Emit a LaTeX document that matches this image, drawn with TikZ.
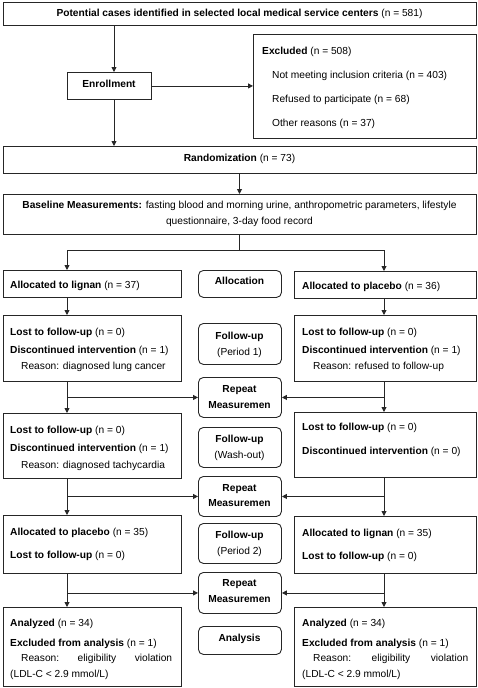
\documentclass[tikz,border=0pt]{standalone}
\usepackage{fontspec}
\setmainfont{Liberation Sans}
\usetikzlibrary{arrows.meta}
\newcommand{\diafont}{\fontsize{10.2}{12}\selectfont}
\begin{document}
\begin{tikzpicture}[x=1pt,y=-1pt,
 box/.style={draw=black!85, line width=0.9pt, anchor=north west, inner sep=0pt},
 rbox/.style={box, rounded corners=5pt},
 lbl/.style={anchor=west, inner sep=0pt, font=\diafont, text height=7.4pt, text depth=2.2pt},
 ctr/.style={inner sep=0pt, font=\diafont, text height=7.4pt, text depth=2.2pt},
 conn/.style={draw=black!85, line width=0.9pt},
 arr/.style={conn, -{Triangle[length=5pt,width=5pt]}}]
\useasboundingbox (0,0) rectangle (478,688);
% helper columns
\coordinate (xe) at (114,0);
\coordinate (xm) at (239.5,0);
\coordinate (xl) at (67,0);
\coordinate (xr) at (384,0);
% boxes
\node[box, minimum width=473pt, minimum height=23pt] (top) at (3,2) {};
\node[box, minimum width=84pt, minimum height=27pt] (enr) at (67,72) {};
\node[box, minimum width=223pt, minimum height=104pt] (exc) at (253,34) {};
\node[box, minimum width=473pt, minimum height=27pt] (rand) at (3,146) {};
\node[box, minimum width=473pt, minimum height=40pt] (base) at (3,194) {};
\node[box, minimum width=178pt, minimum height=27pt] (L1) at (3,270) {};
\node[rbox, minimum width=83pt, minimum height=27pt] (A1) at (198,270) {};
\node[box, minimum width=182pt, minimum height=27pt] (R1) at (294,271) {};
\node[box, minimum width=178pt, minimum height=66pt] (L2) at (3,315) {};
\node[rbox, minimum width=83pt, minimum height=41pt] (F1) at (198,323) {};
\node[box, minimum width=182pt, minimum height=66pt] (R2) at (294,315) {};
\node[rbox, minimum width=83pt, minimum height=40pt] (M1) at (198,377) {};
\node[box, minimum width=178pt, minimum height=65pt] (L3) at (3,413) {};
\node[rbox, minimum width=83pt, minimum height=40pt] (F2) at (198,427) {};
\node[box, minimum width=182pt, minimum height=65pt] (R3) at (294,412) {};
\node[rbox, minimum width=83pt, minimum height=40pt] (M2) at (198,476) {};
\node[box, minimum width=178pt, minimum height=58pt] (L4) at (3,515) {};
\node[rbox, minimum width=83pt, minimum height=40pt] (F3) at (198,523) {};
\node[box, minimum width=182pt, minimum height=57pt] (R4) at (294,516) {};
\node[rbox, minimum width=83pt, minimum height=41pt] (M3) at (198,572) {};
\node[box, minimum width=178pt, minimum height=79pt] (L5) at (3,607) {};
\node[rbox, minimum width=83pt, minimum height=28pt] (A2) at (198,626) {};
\node[box, minimum width=182pt, minimum height=79pt] (R5) at (294,607) {};
% texts
\node[ctr] (t0) at (239.5,14) {\textbf{Potential cases identified in selected local medical service centers} (n = 581)};
\node[ctr] (t1) at (109,84.5) {\textbf{Enrollment}};
\node[lbl] (t2) at (262,52) {\textbf{Excluded} (n = 508)};
\node[lbl] (t3) at (272,76) {Not meeting inclusion criteria (n = 403)};
\node[lbl] (t4) at (272,100) {Refused to participate (n = 68)};
\node[lbl] (t5) at (272,124) {Other reasons (n = 37)};
\node[ctr] (t6) at (239.5,159) {\textbf{Randomization} (n = 73)};
\node[ctr] (t7) at (239.5,206) {\textbf{Baseline Measurements:} fasting blood and morning urine, anthropometric parameters, lifestyle};
\node[ctr] (t8) at (239.5,222) {questionnaire, 3-day food record};
\node[lbl] (t9) at (10,286) {\textbf{Allocated to lignan} (n = 37)};
\node[ctr] (t10) at (239.5,282) {\textbf{Allocation}};
\node[lbl] (t11) at (302,287) {\textbf{Allocated to placebo} (n = 36)};
\node[lbl] (t12) at (10,333) {\textbf{Lost to follow-up} (n = 0)};
\node[lbl] (t13) at (10,351) {\textbf{Discontinued intervention} (n = 1)};
\node[lbl] (t14) at (21,367) {Reason: diagnosed lung cancer};
\node[ctr] (t15) at (239.5,337) {\textbf{Follow-up}};
\node[ctr] (t16) at (239.5,353) {(Period 1)};
\node[lbl] (t17) at (302,333) {\textbf{Lost to follow-up} (n = 0)};
\node[lbl] (t18) at (302,351) {\textbf{Discontinued intervention} (n = 1)};
\node[lbl] (t19) at (313,367) {Reason: refused to follow-up};
\node[ctr] (t20) at (239.5,390) {\textbf{Repeat}};
\node[ctr] (t21) at (239.5,406) {\textbf{Measuremen}};
\node[lbl] (t22) at (10,431) {\textbf{Lost to follow-up} (n = 0)};
\node[lbl] (t23) at (10,449) {\textbf{Discontinued intervention} (n = 1)};
\node[lbl] (t24) at (21,466) {Reason: diagnosed tachycardia};
\node[ctr] (t25) at (239.5,440) {\textbf{Follow-up}};
\node[ctr] (t26) at (239.5,456) {(Wash-out)};
\node[lbl] (t27) at (302,428) {\textbf{Lost to follow-up} (n = 0)};
\node[lbl] (t28) at (302,452) {\textbf{Discontinued intervention} (n = 0)};
\node[ctr] (t29) at (239.5,489) {\textbf{Repeat}};
\node[ctr] (t30) at (239.5,504) {\textbf{Measuremen}};
\node[lbl] (t31) at (10,533) {\textbf{Allocated to placebo} (n = 35)};
\node[lbl] (t32) at (10,556) {\textbf{Lost to follow-up} (n = 0)};
\node[ctr] (t33) at (239.5,536) {\textbf{Follow-up}};
\node[ctr] (t34) at (239.5,552) {(Period 2)};
\node[lbl] (t35) at (302,534) {\textbf{Allocated to lignan} (n = 35)};
\node[lbl] (t36) at (302,557) {\textbf{Lost to follow-up} (n = 0)};
\node[ctr] (t37) at (239.5,584) {\textbf{Repeat}};
\node[ctr] (t38) at (239.5,600) {\textbf{Measuremen}};
\node[lbl] (t39) at (10,624) {\textbf{Analyzed} (n = 34)};
\node[lbl] (t40) at (10,644) {\textbf{Excluded from analysis} (n = 1)};
\node[lbl] (t41) at (21,659) {\makebox[151pt][s]{Reason:\hfill eligibility\hfill violation}};
\node[lbl] (t42) at (10,675) {(LDL-C < 2.9 mmol/L)};
\node[ctr] (t43) at (239.5,639) {\textbf{Analysis}};
\node[lbl] (t44) at (302,624) {\textbf{Analyzed} (n = 34)};
\node[lbl] (t45) at (302,644) {\textbf{Excluded from analysis} (n = 1)};
\node[lbl] (t46) at (313,659) {\makebox[155pt][s]{Reason:\hfill eligibility\hfill violation}};
\node[lbl] (t47) at (302,675) {(LDL-C < 2.9 mmol/L)};
% connectors
\draw[arr] (top.south -| xe) -- (enr.north -| xe);
\draw[arr] (enr.east) -- (enr.east -| exc.west);
\draw[arr] (enr.south -| xe) -- (rand.north -| xe);
\draw[arr] (rand.south -| xm) -- (base.north -| xm);
\coordinate (split) at (239.5,250);
\draw[conn] (base.south -| xm) -- (split);
\draw[arr] (split) -| (L1.north -| xl);
\draw[arr] (split) -| (R1.north -| xr);
\draw[arr] (L1.south -| xl) -- (L2.north -| xl);
\draw[arr] (R1.south -| xr) -- (R2.north -| xr);
\draw[arr] (L2.south -| xl) -- (L3.north -| xl);
\draw[arr] (M1.west -| xl) -- (M1.west);
\draw[arr] (R2.south -| xr) -- (R3.north -| xr);
\draw[arr] (M1.east -| xr) -- (M1.east);
\draw[arr] (L3.south -| xl) -- (L4.north -| xl);
\draw[arr] (M2.west -| xl) -- (M2.west);
\draw[arr] (R3.south -| xr) -- (R4.north -| xr);
\draw[arr] (M2.east -| xr) -- (M2.east);
\draw[arr] (L4.south -| xl) -- (L5.north -| xl);
\draw[arr] (M3.west -| xl) -- (M3.west);
\draw[arr] (R4.south -| xr) -- (R5.north -| xr);
\draw[arr] (M3.east -| xr) -- (M3.east);
\end{tikzpicture}
\end{document}
